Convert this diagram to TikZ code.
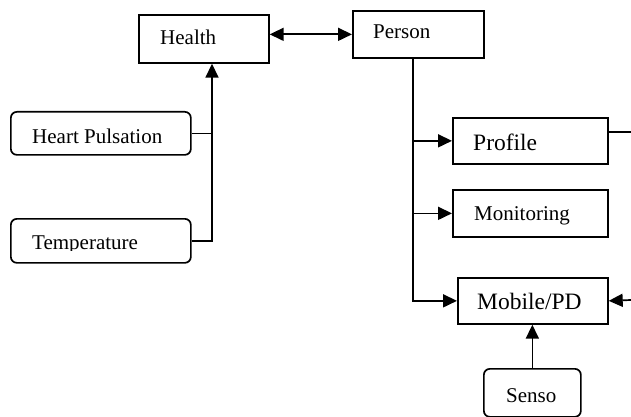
\documentclass[tikz,border=0pt]{standalone}
\usepackage{fontspec}
\setmainfont{Liberation Serif}
\usetikzlibrary{arrows.meta}
\begin{document}
\begin{tikzpicture}[x=1pt,y=-1pt,
  box/.style={draw,line width=1.7pt,rectangle,inner sep=0pt,anchor=north west},
  rbox/.style={box,rounded corners=6pt},
  txt/.style={inner sep=0pt,anchor=base west,font=\fontsize{21}{25}\selectfont},
  bigtxt/.style={txt,font=\fontsize{23.5}{28}\selectfont},
  conn/.style={line width=1.7pt},
  arr/.style={conn,-{Triangle[length=14pt,width=13pt]}},
  darr/.style={conn,{Triangle[length=14pt,width=13pt]}-{Triangle[length=14pt,width=13pt]}}]
\fill[white] (0,0) rectangle (631,417);
\useasboundingbox (0,0) rectangle (631,417);
% boxes
\node[box,minimum width=130pt,minimum height=48pt] (health) at (138,14) {};
\node[box,minimum width=131pt,minimum height=47pt] (person) at (352,10) {};
\node[rbox,minimum width=180pt,minimum height=43pt] (hp) at (10,111) {};
\node[rbox,minimum width=180pt,minimum height=44pt] (temp) at (10,218) {};
\node[box,minimum width=155pt,minimum height=46pt] (profile) at (452,117) {};
\node[box,minimum width=155pt,minimum height=47pt] (monit) at (452,189) {};
\node[box,minimum width=150pt,minimum height=46pt] (mobile) at (457,277) {};
\node[rbox,minimum width=97pt,minimum height=48pt] (senso) at (483,368) {};
% texts
\node[txt] (thealth) at (160,45) {Health};
\node[txt] (tperson) at (373,39) {Person};
\node[txt] (thp) at (32,143) {Heart Pulsation};
\begin{scope}
\clip (10,218) rectangle (190,250);
\node[txt] (ttemp) at (32,249) {Temperature};
\end{scope}
\node[bigtxt] (tprofile) at (473,150) {Profile};
\node[txt] (tmonit) at (474,220) {Monitoring};
\node[bigtxt] (tmobile) at (477,309) {Mobile/PD};
\node[txt] (tsenso) at (506,402) {Senso};
% coordinates
\coordinate (tj) at (212,243);
\coordinate (pv) at (413,57);
\coordinate (pr) at (631,132);
\coordinate (mr) at (631,300);
% connectors
\draw[darr] (health.east |- person.west) -- (person.west);
\draw[conn] (hp.east) -- (hp.east -| tj);
\draw[arr] (temp.east) -- (temp.east -| tj) -- (health.south -| tj);
\draw[arr] (person.south -| pv) -- (pv |- mobile.west) -- (mobile.west);
\draw[arr] (pv |- profile.west) -- (profile.west);
\draw[arr] (pv |- monit.west) -- (monit.west);
\draw[conn] (profile.east |- pr) -- (pr);
\draw[arr] (mr) -- (mobile.east);
\draw[arr] (senso.north) -- (mobile.south -| senso.north);
\end{tikzpicture}
\end{document}
